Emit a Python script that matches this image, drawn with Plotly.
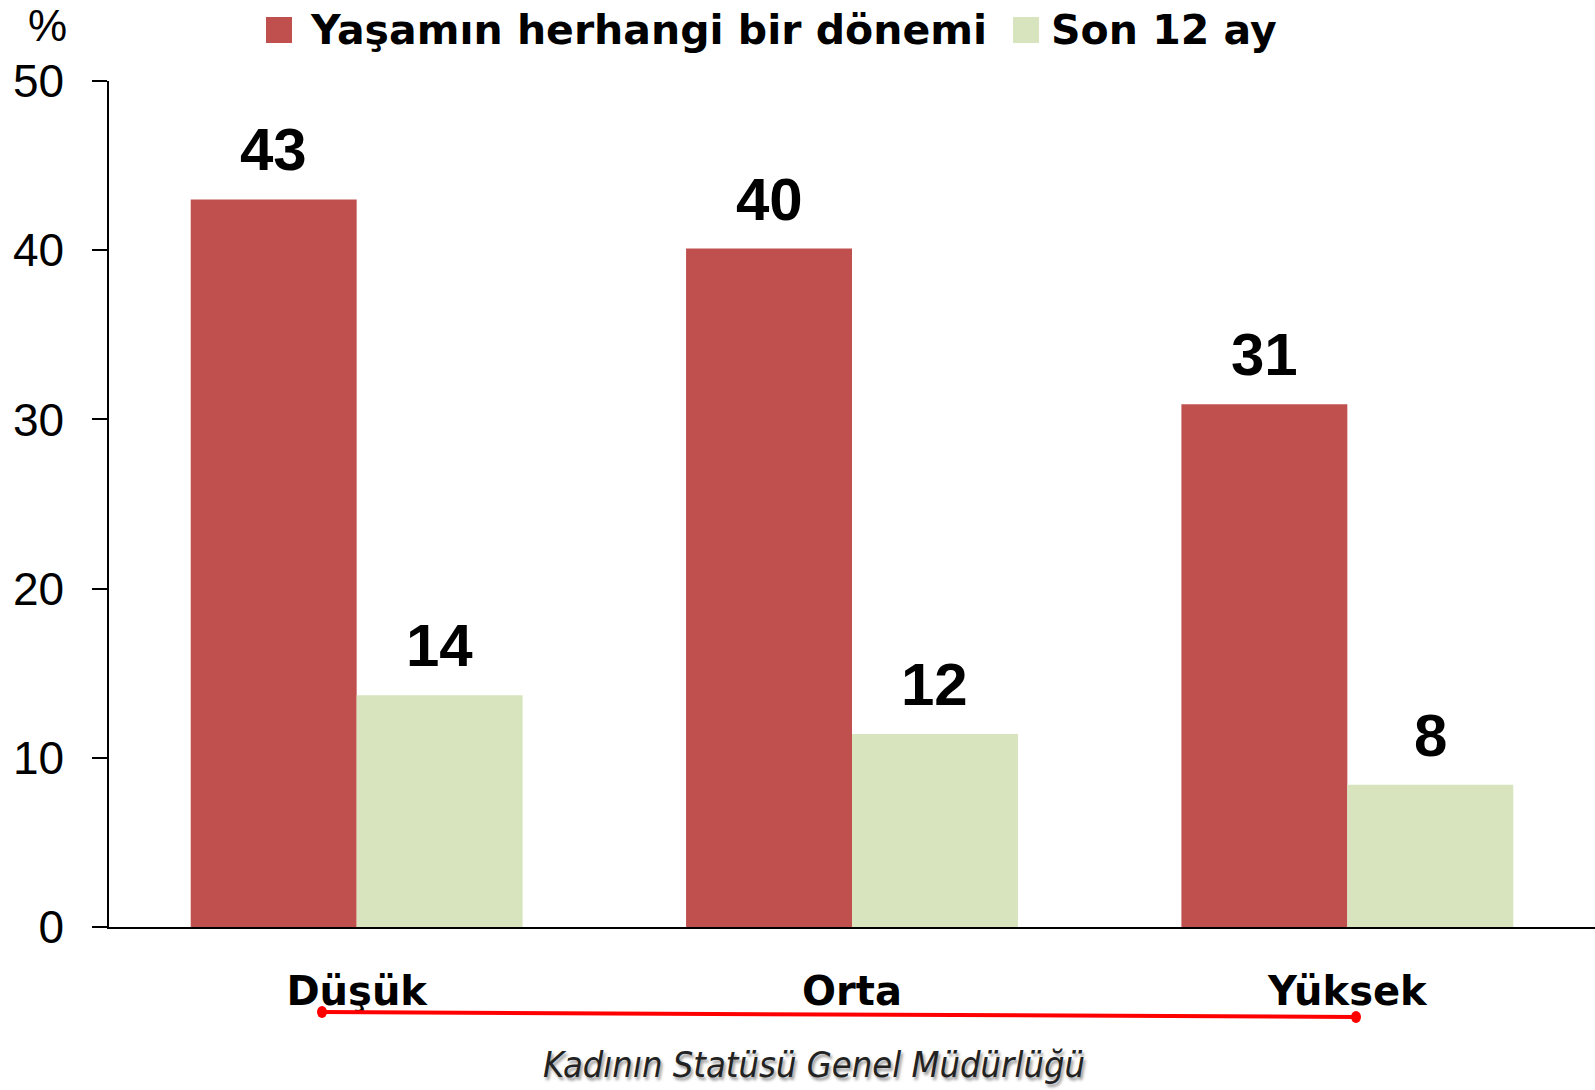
import plotly.graph_objects as go

categories = ["Düşük", "Orta", "Yüksek"]
series_names = ["Yaşamın herhangi bir dönemi", "Son 12 ay"]
lifetime_values = [43.0, 40.1, 30.9]
last12_values = [13.7, 11.4, 8.4]
lifetime_labels = ["43", "40", "31"]
last12_labels = ["14", "12", "8"]
y_tick_values = [0, 10, 20, 30, 40, 50]
y_tick_labels = ["0", "10", "20", "30", "40", "50"]
unit_label = "%"
source_text = "Kadının Statüsü Genel Müdürlüğü"

RED = "#C0504D"
GREEN = "#D7E4BD"
W, H = 1595, 1090
ML, MR, MT, MB = 109, 0, 81, 163
PW, PH = W - ML - MR, H - MT - MB

def px_x(px):
    return (px - ML) / PW

def px_y(py):
    return (H - MB - py) / PH

fig = go.Figure()
fig.add_trace(go.Bar(x=categories, y=lifetime_values, name=series_names[0],
                     marker=dict(color=RED, line=dict(width=0)), showlegend=False))
fig.add_trace(go.Bar(x=categories, y=last12_values, name=series_names[1],
                     marker=dict(color=GREEN, line=dict(width=0)), showlegend=False))

bargap = 0.33
half_bar_px = PW / len(categories) * (1 - bargap) / 4
annotations = []
label_font = dict(family="Liberation Sans, Arial, sans-serif", size=60, color="black", weight="bold")
for i, cat in enumerate(categories):
    annotations.append(dict(x=cat, y=lifetime_values[i], text=lifetime_labels[i], showarrow=False,
                            xshift=-half_bar_px, yshift=14, yanchor="bottom", font=label_font))
    annotations.append(dict(x=cat, y=last12_values[i], text=last12_labels[i], showarrow=False,
                            xshift=half_bar_px, yshift=14, yanchor="bottom", font=label_font))

legend_font = dict(family="DejaVu Sans, sans-serif", size=41, color="black", weight="bold")
annotations.append(dict(xref="paper", yref="paper", x=px_x(308), y=px_y(30), text=series_names[0],
                        showarrow=False, xanchor="left", yanchor="middle", font=legend_font))
annotations.append(dict(xref="paper", yref="paper", x=px_x(1049), y=px_y(30), text=series_names[1],
                        showarrow=False, xanchor="left", yanchor="middle", font=legend_font))
annotations.append(dict(xref="paper", yref="paper", x=px_x(47), y=px_y(26), text=unit_label,
                        showarrow=False, xanchor="center", yanchor="middle",
                        font=dict(family="Liberation Sans, Arial, sans-serif", size=44, color="black")))
annotations.append(dict(xref="paper", yref="paper", x=px_x(814), y=px_y(1064), text=source_text,
                        showarrow=False, xanchor="center", yanchor="middle",
                        font=dict(family="Liberation Sans Narrow, DejaVu Sans Condensed, Liberation Sans, sans-serif",
                                  size=36, color="#222222", style="italic",
                                  shadow="2px 3px 3px #9a9a9a")))

shapes = [
    dict(type="rect", xref="paper", yref="paper", x0=px_x(266), x1=px_x(292), y0=px_y(43), y1=px_y(17),
         fillcolor=RED, line=dict(width=0)),
    dict(type="rect", xref="paper", yref="paper", x0=px_x(1013), x1=px_x(1039), y0=px_y(43), y1=px_y(17),
         fillcolor=GREEN, line=dict(width=0)),
    dict(type="line", xref="paper", yref="paper", x0=px_x(322), x1=px_x(1356), y0=px_y(1012), y1=px_y(1017),
         line=dict(color="#FF0000", width=4)),
    dict(type="circle", xref="paper", yref="paper", xsizemode="pixel", ysizemode="pixel",
         xanchor=px_x(322), yanchor=px_y(1012), x0=-5, x1=5, y0=-6, y1=6,
         fillcolor="#FF0000", line=dict(width=0)),
    dict(type="circle", xref="paper", yref="paper", xsizemode="pixel", ysizemode="pixel",
         xanchor=px_x(1356), yanchor=px_y(1017), x0=-5, x1=5, y0=-6, y1=6,
         fillcolor="#FF0000", line=dict(width=0)),
]

fig.update_layout(
    width=W, height=H,
    margin=dict(l=ML, r=MR, t=MT, b=MB, pad=0),
    paper_bgcolor="white", plot_bgcolor="white",
    barmode="group", bargap=bargap, bargroupgap=0,
    annotations=annotations, shapes=shapes,
    showlegend=False,
)
fig.update_xaxes(
    showline=True, linecolor="black", linewidth=2, showgrid=False, zeroline=False,
    ticks="", ticklabelstandoff=28,
    tickfont=dict(family="DejaVu Sans, sans-serif", size=40, color="black", weight="bold"),
)
fig.update_yaxes(
    range=[0, 50], tickvals=y_tick_values, ticktext=y_tick_labels,
    showline=True, linecolor="black", linewidth=1.5, showgrid=False, zeroline=False,
    ticks="outside", ticklen=15, tickwidth=1.5, tickcolor="black", ticklabelstandoff=19,
    tickfont=dict(family="Liberation Sans, Arial, sans-serif", size=46, color="black"),
)

fig.write_html("out.html", config={"displayModeBar": False},
               post_script="document.body.style.margin='0';document.body.style.overflow='hidden';")
